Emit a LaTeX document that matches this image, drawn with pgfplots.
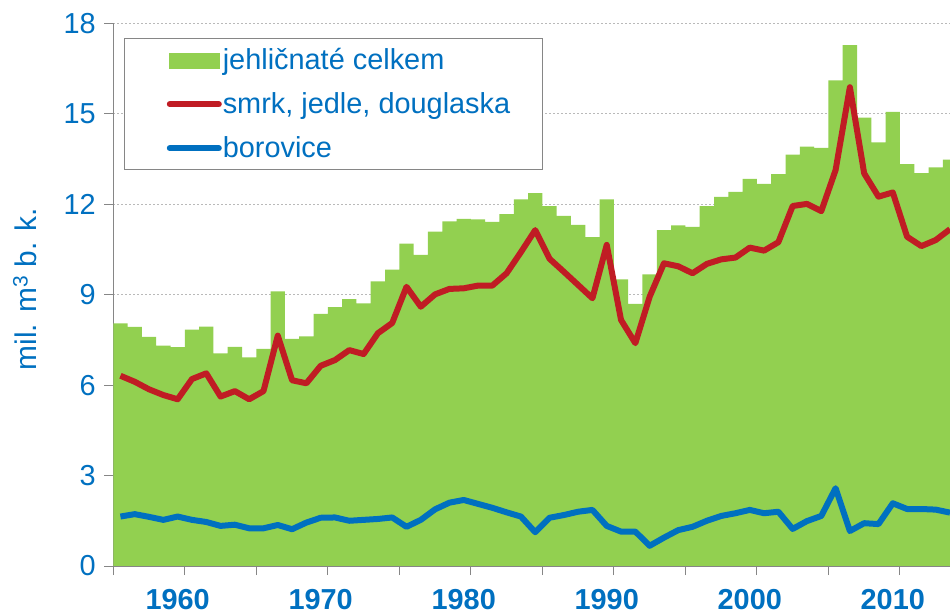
\documentclass[border=0pt]{standalone}
\usepackage{fontspec}
\setmainfont{Liberation Sans}
\usepackage{pgfplots}
\usepackage{pgfplotstable}
\pgfplotsset{compat=1.18}
\definecolor{ttblue}{RGB}{0,112,192}
\definecolor{barg}{RGB}{146,208,80}
\definecolor{linered}{RGB}{192,28,36}
\definecolor{axgray}{RGB}{134,134,134}
\pgfplotstableread{
year total smrk borovice
1956 8.05 6.31 1.64
1957 7.93 6.11 1.72
1958 7.60 5.86 1.63
1959 7.31 5.67 1.53
1960 7.26 5.53 1.64
1961 7.84 6.20 1.53
1962 7.94 6.39 1.46
1963 7.05 5.62 1.33
1964 7.27 5.80 1.37
1965 6.92 5.53 1.25
1966 7.20 5.80 1.25
1967 9.11 7.64 1.36
1968 7.53 6.16 1.22
1969 7.62 6.06 1.44
1970 8.36 6.64 1.60
1971 8.59 6.83 1.61
1972 8.85 7.16 1.50
1973 8.71 7.03 1.53
1974 9.44 7.72 1.56
1975 9.83 8.06 1.61
1976 10.69 9.26 1.30
1977 10.32 8.60 1.53
1978 11.09 9.01 1.88
1979 11.43 9.19 2.10
1980 11.51 9.21 2.19
1981 11.50 9.30 2.06
1982 11.41 9.30 1.93
1983 11.67 9.71 1.78
1984 12.16 10.41 1.64
1985 12.37 11.14 1.12
1986 11.94 10.19 1.60
1987 11.61 9.76 1.69
1988 11.31 9.32 1.80
1989 10.91 8.88 1.86
1990 12.16 10.65 1.33
1991 9.51 8.16 1.14
1992 8.69 7.39 1.14
1993 9.67 8.93 0.67
1994 11.14 10.04 0.94
1995 11.30 9.94 1.19
1996 11.25 9.71 1.30
1997 11.94 10.02 1.50
1998 12.24 10.17 1.66
1999 12.41 10.23 1.75
2000 12.84 10.56 1.86
2001 12.67 10.46 1.75
2002 13.00 10.74 1.80
2003 13.64 11.94 1.23
2004 13.91 12.01 1.49
2005 13.87 11.77 1.66
2006 16.11 13.13 2.58
2007 17.28 15.88 1.16
2008 14.87 13.02 1.42
2009 14.05 12.25 1.39
2010 15.06 12.39 2.08
2011 13.33 10.92 1.89
2012 13.03 10.61 1.89
2013 13.22 10.81 1.87
2014 13.48 11.17 1.77
}\datatable
\begin{document}
\begin{tikzpicture}
\begin{axis}[
  at={(0,0)}, anchor=south west,
  width=836.7bp, height=542.7bp, scale only axis,
  xmin=1955.5, xmax=2014, ymin=0, ymax=18,
  axis lines*=left,
  axis line style={axgray, line width=1bp},
  xtick={1955.5,1960.5,...,2010.5},
  xticklabels={,1960,,1970,,1980,,1990,,2000,,2010},
  ytick={0,3,...,18},
  tick align=outside,
  major tick length=9bp,
  tick style={axgray, line width=1bp},
  /pgf/number format/assume math mode=true,
  tick label style={color=ttblue},
  yticklabel style={font=\fontsize{29}{34}\selectfont, xshift=-5bp},
  xticklabel style={font=\bfseries\fontsize{29}{34}\selectfont, xshift=-7.15bp, yshift=-11bp},
  ymajorgrids,
  grid style={gray!55, line width=0.8bp, dash pattern=on 2bp off 2bp},
  ylabel={mil. m\textsuperscript{3} b. k.},
  ylabel style={at={(axis description cs:-0.0916,0.51)}, anchor=base, rotate=0, color=ttblue, font=\fontsize{30}{34}\selectfont},
  legend cell align=left,
  legend style={at={(axis description cs:0.01315,0.9724)}, anchor=north west,
    draw=axgray, line width=1bp, fill=white,
    inner xsep=31bp, inner ysep=5bp,
    font=\fontsize{29}{34}\selectfont, text=ttblue,
    nodes={inner sep=1bp, text height=25bp, text depth=6bp},
    row sep=11bp,
    /tikz/every even column/.append style={column sep=3bp}},
]
\addplot[ybar, bar width=1, fill=barg, draw=none,
  legend image code/.code={\path (-8bp,0bp); \fill[barg] (1.7bp,-9bp) rectangle (53.4bp,7bp);}]
  table[x=year, y=total] {\datatable};
\addlegendentry{jehličnaté celkem}
\addplot[linered, line width=6bp, line join=round, no marks,
  legend image code/.code={\path (-8bp,0bp); \draw[linered, line width=6bp, line cap=round] (3bp,0bp) -- (52bp,0bp);}]
  table[x=year, y=smrk] {\datatable};
\addlegendentry{smrk, jedle, douglaska}
\addplot[ttblue, line width=6bp, line join=round, no marks,
  legend image code/.code={\path (-8bp,0bp); \draw[ttblue, line width=6bp, line cap=round] (3bp,0bp) -- (52bp,0bp);}]
  table[x=year, y=borovice] {\datatable};
\addlegendentry{borovice}
\end{axis}
\pgfresetboundingbox
\path[use as bounding box] (-113.3bp,-48bp) rectangle (836.7bp,566bp);
\end{tikzpicture}
\end{document}
